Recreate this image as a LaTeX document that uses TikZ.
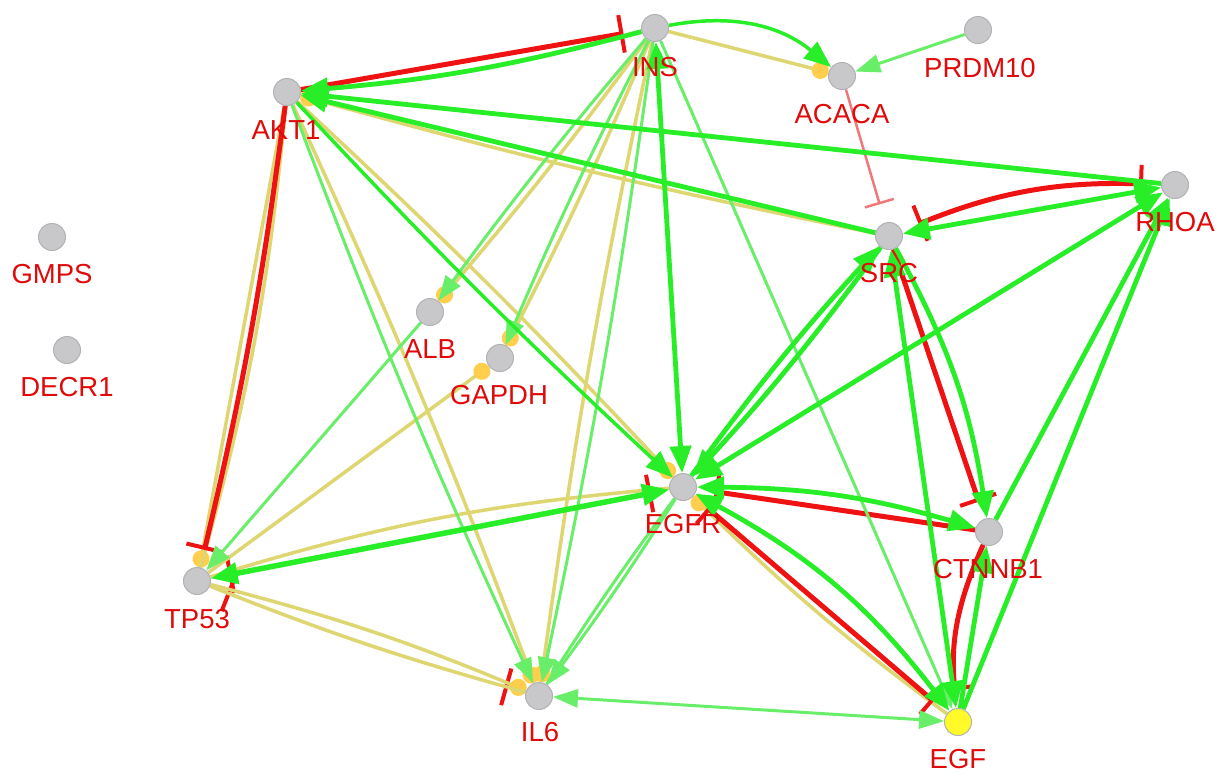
\documentclass[tikz,border=0pt]{standalone}
\usepackage{fontspec}
\setmainfont{Liberation Sans}
\usetikzlibrary{arrows.meta,backgrounds}
\definecolor{gcol}{RGB}{40,238,40}
\definecolor{lcol}{RGB}{105,238,105}
\definecolor{rcol}{RGB}{238,18,18}
\definecolor{rlcol}{RGB}{240,120,120}
\definecolor{ycol}{RGB}{222,214,112}
\definecolor{dcol}{RGB}{255,206,76}
\definecolor{ncol}{RGB}{200,200,202}
\definecolor{nbor}{RGB}{178,178,182}
\definecolor{tcol}{RGB}{225,10,10}
\definecolor{egfcol}{RGB}{255,250,40}
\tikzset{
  gt/.tip={Triangle[length=27pt,width=21pt]},
  lt/.tip={Triangle[length=25pt,width=18pt]},
  tb/.tip={Bar[width=38pt,line width=4pt]},
  tbl/.tip={Bar[width=30pt,line width=2.5pt]},
  dt/.tip={Circle[length=17pt,width=17pt,fill=dcol,color=dcol]},
  gene/.style={circle,fill=ncol,draw=nbor,line width=1pt,minimum size=27pt,inner sep=0pt},
  lab/.style={text=tcol,font=\fontsize{27.5}{30}\selectfont,anchor=base,inner sep=0pt},
  eG/.style={draw=gcol,line width=4.8pt,-gt},
  eL/.style={draw=lcol,line width=3pt,-lt},
  eLn/.style={draw=lcol,line width=3pt},
  eR/.style={draw=rcol,line width=5pt,shorten >=18pt,-tb},
  eRd/.style={draw=rcol,line width=5pt,shorten >=18pt,shorten <=18pt,tb-tb},
  eRt/.style={draw=rcol,line width=2pt,shorten >=18pt,shorten <=18pt,tb-tb},
  eRl/.style={draw=rlcol,line width=2.5pt,shorten >=19pt,-tbl},
  eY/.style={draw=ycol,line width=3.5pt,-dt},
  eYn/.style={draw=ycol,line width=3.5pt}
}
\begin{document}
\begin{tikzpicture}[x=1pt,y=-1pt]
\useasboundingbox (0,0) rectangle (1219,772);
% genes
\node[gene] (INS) at (655,28) {};
\node[gene] (PRDM10) at (978,30) {};
\node[gene] (ACACA) at (842,76) {};
\node[gene] (AKT1) at (287,92) {};
\node[gene] (RHOA) at (1175,185) {};
\node[gene] (SRC) at (889,236) {};
\node[gene] (GMPS) at (52,237) {};
\node[gene] (DECR1) at (67,350) {};
\node[gene] (ALB) at (430,312) {};
\node[gene] (GAPDH) at (500,358) {};
\node[gene] (EGFR) at (683,487) {};
\node[gene] (CTNNB1) at (989,532) {};
\node[gene] (TP53) at (197,581) {};
\node[gene] (IL6) at (539,696) {};
\node[gene,fill=egfcol] (EGF) at (958,722) {};
% labels
\node[lab] (INSl) at (655,76) {INS};
\node[lab] (PRDM10l) at (980,77) {PRDM10};
\node[lab] (ACACAl) at (842,123) {ACACA};
\node[lab] (AKT1l) at (286,139) {AKT1};
\node[lab] (RHOAl) at (1175,231) {RHOA};
\node[lab] (SRCl) at (889,282) {SRC};
\node[lab] (GMPSl) at (52,283) {GMPS};
\node[lab] (DECR1l) at (67,396) {DECR1};
\node[lab] (ALBl) at (430,358) {ALB};
\node[lab] (GAPDHl) at (499,404) {GAPDH};
\node[lab] (EGFRl) at (683,533) {EGFR};
\node[lab] (CTNNB1l) at (988,578) {CTNNB1};
\node[lab] (TP53l) at (197,628) {TP53};
\node[lab] (IL6l) at (540,741) {IL6};
\node[lab] (EGFl) at (958,768) {EGF};
\begin{scope}[on background layer]
\fill[white] (0,0) rectangle (1219,772);
% hidden red edges
\draw[eRt] (TP53) -- (EGFR);
\draw[eRt] (TP53) to[bend right=3] (IL6);
% yellow edges
\draw[eY] (INS) -- (ACACA);
\draw[eY] (SRC) to[bend left=2] (AKT1);
\draw[eY] (INS) to[bend left=2] (ALB);
\draw[eY] (INS) to[bend left=2] (GAPDH);
\draw[eY] (TP53) -- (GAPDH);
\draw[eY] (AKT1) to[bend left=2] (EGFR);
\draw[eY] (EGF) to[bend left=4] (EGFR);
\draw[eY] (AKT1) -- (TP53);
\draw[eYn] (AKT1) to[bend left=5] (TP53);
\draw[eY] (TP53) to[bend left=4] (IL6);
\draw[eYn] (TP53) to[bend right=3] (IL6);
\draw[eY] (AKT1) to[bend left=2] (IL6);
\draw[eY] (INS) to[bend right=2] (IL6);
\draw[eYn] (TP53) to[bend left=6] (EGFR);
% red edges
\draw[eR] (AKT1) -- (INS);
\draw[eR] (AKT1) to[bend left=3] (TP53);
\draw[eR] (CTNNB1) -- (EGFR);
\draw[eRd] (EGF) -- (EGFR);
\draw[eR] (SRC) -- (CTNNB1);
\draw[eR] (CTNNB1) to[bend right=15] (EGF);
\draw[eRd] (SRC) to[bend left=12] (RHOA);
\draw[eRl] (ACACA) -- (SRC);
% light green edges
\draw[eL] (PRDM10) -- (ACACA);
\draw[eL] (INS) to[bend right=2] (ALB);
\draw[eL] (INS) to[bend right=2] (GAPDH);
\draw[eL] (ALB) -- (TP53);
\draw[eL] (AKT1) to[bend right=2] (IL6);
\draw[eL] (INS) to[bend left=2] (IL6);
\draw[eL] (EGFR) to[bend left=2] (IL6);
\draw[eLn] (EGFR) to[bend right=2] (IL6);
\draw[eL,lt-lt] (IL6) -- (EGF);
\draw[eL] (INS) -- (EGF);
% green edges
\draw[eG] (INS) to[bend left=5] (AKT1);
\draw[eG] (RHOA) -- (AKT1);
\draw[eG] (SRC) -- (AKT1);
\draw[eG,line width=3.5pt] (AKT1) to[bend right=2] (EGFR);
\draw[eG,gt-gt] (INS) -- (EGFR);
\draw[eG,line width=5.5pt,gt-gt] (TP53) -- (EGFR);
\draw[eG] (SRC) to[bend left=3] (EGFR);
\draw[eG] (EGFR) to[bend left=3] (SRC);
\draw[eG,gt-gt] (EGFR) -- (RHOA);
\draw[eG,gt-gt] (EGFR) to[bend left=8] (CTNNB1);
\draw[eG,gt-gt] (EGF) to[bend right=12] (EGFR);
\draw[eG,gt-gt] (SRC) -- (RHOA);
\draw[eG] (SRC) to[bend left=10] (CTNNB1);
\draw[eG,gt-gt] (EGF) -- (SRC);
\draw[eG] (CTNNB1) -- (RHOA);
\draw[eG] (EGF) -- (RHOA);
\draw[eG] (EGF) -- (CTNNB1);
\draw[eG,line width=3.5pt] (INS) to[bend left=25] (ACACA);
\end{scope}
\end{tikzpicture}
\end{document}
